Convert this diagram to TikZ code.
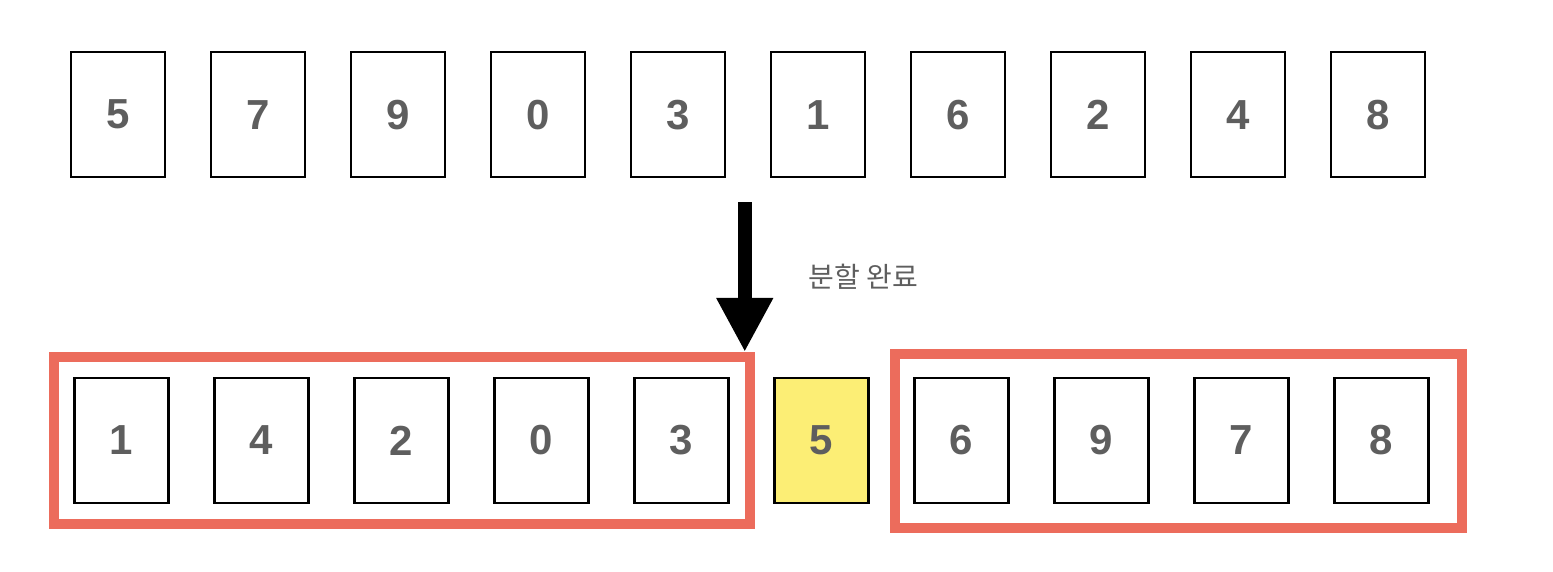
\documentclass[tikz,border=0pt]{standalone}
\usepackage{fontspec}
\setmainfont{Liberation Sans}
\newfontfamily\krfont{Noto Sans CJK KR}
\usepackage{xcolor}
\usepackage{tikz}
\usetikzlibrary{positioning,fit,calc,arrows.meta}

\definecolor{digitgray}{RGB}{94,94,94}
\definecolor{framered}{RGB}{236,108,92}
\definecolor{pivotyellow}{RGB}{252,238,117}

\begin{document}
\begin{tikzpicture}[
    x=1pt, y=1pt,
    node distance=46pt,
    card/.style={draw, line width=2.5pt, outer sep=0pt, minimum width=94pt, minimum height=125pt, inner sep=0pt, text=digitgray, font=\fontsize{42}{42}\selectfont\bfseries},
    pivot/.style={card, fill=pivotyellow},
    frame/.style={draw=framered, line width=10pt, inner sep=21pt},
    bigarrow/.style={-{Triangle[length=54pt, width=53pt]}, line width=14pt},
    note/.style={text=digitgray, inner sep=0pt, font=\krfont\fontsize{28}{28}\selectfont},
]
    \useasboundingbox (0,0) rectangle (1553,572);
    % input row
    \node[card] (t1) at (117.75,457.4) {5};
    \node[card, right=of t1] (t2) {7};
    \node[card, right=of t2] (t3) {9};
    \node[card, right=of t3] (t4) {0};
    \node[card, right=of t4] (t5) {3};
    \node[card, right=of t5] (t6) {1};
    \node[card, right=of t6] (t7) {6};
    \node[card, right=of t7] (t8) {2};
    \node[card, right=of t8] (t9) {4};
    \node[card, right=of t9] (t10) {8};
    % partitioned row
    \node[card] (l1) at (121.5,131.5) {1};
    \node[card, right=of l1] (l2) {4};
    \node[card, right=of l2] (l3) {2};
    \node[card, right=of l3] (l4) {0};
    \node[card, right=of l4] (l5) {3};
    \node[pivot, right=of l5] (p) {5};
    \node[card, right=of p] (r1) {6};
    \node[card, right=of r1] (r2) {9};
    \node[card, right=of r2] (r3) {7};
    \node[card, right=of r3] (r4) {8};
    % groups
    \node[frame, fit=(l1)(l5)] (lgroup) {};
    \coordinate (rnw) at ($(r1.north west)+(-19.5,24)$);
    \coordinate (rse) at ($(r4.south east)+(33,-25)$);
    \node[frame, fit=(rnw)(rse), inner sep=0pt] (rgroup) {};
    % split arrow
    \coordinate (split) at ($(t5.south east)!0.5!(t6.south west)+(-3,-25)$);
    \draw[bigarrow] (split) -- node[note, right=57pt] {분할 완료} (split |- lgroup.north);
\end{tikzpicture}
\end{document}
